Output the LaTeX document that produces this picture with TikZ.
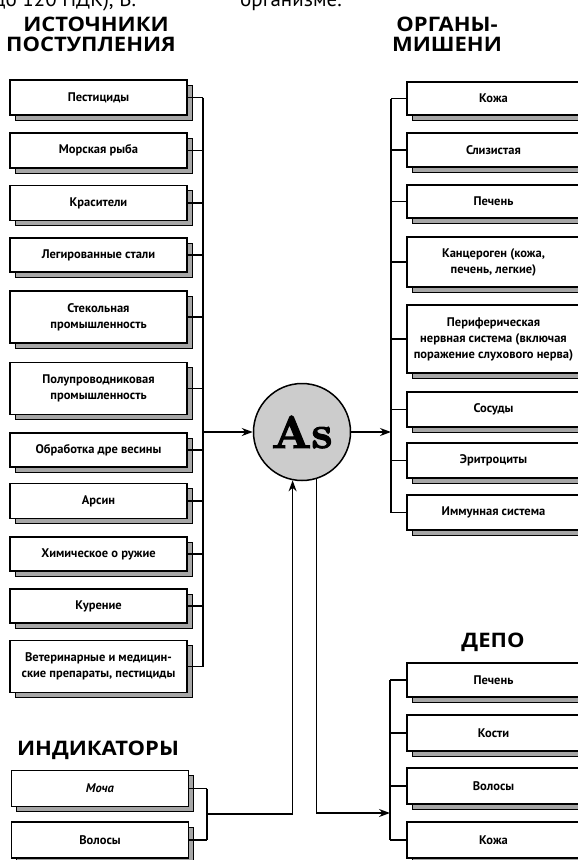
\documentclass[tikz,border=0pt]{standalone}
\usepackage{fontspec}
\newfontfamily\ptsans{PT Sans}
\newfontfamily\opensans[FakeStretch=1.1]{Open Sans}
\newfontface\asfont[FakeBold=2.5]{lmroman10-bold.otf}
\usetikzlibrary{arrows.meta,shadows}
\newcommand{\boxtxt}{\ptsans\bfseries\fontsize{12.5}{16}\selectfont}
\newcommand{\headtxt}{\opensans\bfseries\fontsize{20}{21}\selectfont}
\begin{document}
\begin{tikzpicture}[x=1pt,y=-1pt,
  box/.style={draw=black, line width=1.6pt, fill=white, inner sep=1pt,
    font=\boxtxt, align=center,
    general shadow={shadow xshift=5pt, shadow yshift=-5pt, fill=black!35, draw=black, line width=1pt}},
  lbox/.style={box, minimum width=177pt},
  rbox/.style={box, minimum width=173pt},
  conn/.style={line width=1.4pt},
  arr/.style={line width=1.4pt, -{Stealth[length=11pt,width=8pt]}},
  head/.style={font=\headtxt, anchor=base}]
\useasboundingbox (0,0) rectangle (578,860);
\clip (0,0) rectangle (578,860);

% partial text at top
\node[anchor=base west, font=\ptsans\fontsize{21}{21}\selectfont, inner sep=0] (top1) at (-6,6) {до 120 ПДК), В.};
\node[anchor=base west, font=\ptsans\fontsize{21}{21}\selectfont, inner sep=0] (top2) at (240,6) {организме.};

% headings
\node[head] (h1) at (96,31) {ИСТОЧНИКИ};
\node[head] (h2) at (91,51) {ПОСТУПЛЕНИЯ};
\node[head] (h3) at (447,31) {ОРГАНЫ-};
\node[head] (h4) at (447,51) {МИШЕНИ};
\node[head] (h5) at (493,647) {ДЕПО};
\node[head] (h6) at (98,755) {ИНДИКАТОРЫ};

% left boxes
\node[lbox, minimum height=35pt] (l1) at (98.5,97.5) {Пестициды};
\node[lbox, minimum height=35pt] (l2) at (98.5,150.5) {Морская рыба};
\node[lbox, minimum height=35pt] (l3) at (98.5,203) {Красители};
\node[lbox, minimum height=34pt] (l4) at (98.5,255) {Легированные стали};
\node[lbox, minimum height=52pt] (l5) at (98.5,317) {Стекольная\\промышленность};
\node[lbox, minimum height=52pt] (l6) at (98.5,388.5) {Полупроводниковая\\промышленность};
\node[lbox, minimum height=34pt] (l7) at (98.5,450) {Обработка дре весины};
\node[lbox, minimum height=35pt] (l8) at (98.5,501) {Арсин};
\node[lbox, minimum height=34pt] (l9) at (98.5,554) {Химическое о ружие};
\node[lbox, minimum height=34pt] (l10) at (98.5,606) {Курение};
\node[lbox, minimum height=52pt] (l11) at (98.5,666.5) {Ветеринарные и медицин-\\ские препараты, пестициды};

% indicators
\node[lbox, minimum height=36pt] (i1) at (100,788.5) {\itshape Моча};
\node[lbox, minimum height=36pt] (i2) at (100,840) {Волосы};

% right boxes
\node[rbox, minimum height=33pt] (r1) at (493.5,98.5) {Кожа};
\node[rbox, minimum height=34pt] (r2) at (493.5,150) {Слизистая};
\node[rbox, minimum height=33pt] (r3) at (493.5,201.5) {Печень};
\node[rbox, minimum height=50pt] (r4) at (493.5,262) {Канцероген (кожа,\\печень, легкие)};
\node[rbox, minimum height=68pt] (r5) at (493.5,339) {Периферическая\\нервная система (включая\\поражение слухового нерва)};
\node[rbox, minimum height=35pt] (r6) at (493.5,409.5) {Сосуды};
\node[rbox, minimum height=35pt] (r7) at (493.5,460.5) {Эритроциты};
\node[rbox, minimum height=35pt] (r8) at (493.5,512.5) {Иммунная система};

% depo boxes
\node[rbox, minimum height=34pt] (d1) at (493.5,680) {Печень};
\node[rbox, minimum height=36pt] (d2) at (493.5,733) {Кости};
\node[rbox, minimum height=36pt] (d3) at (493.5,786) {Волосы};
\node[rbox, minimum height=36pt] (d4) at (493.5,840) {Кожа};

% central circle
\node[circle, draw=black, line width=1.5pt, fill=black!20, minimum size=97pt, inner sep=0,
  font=\asfont\fontsize{46}{46}\selectfont] (as) at (302,432) {As};

% bus coordinates
\coordinate (lbus) at (203,432);
\coordinate (rbus) at (391,432);
\coordinate (ibus) at (207,814);
\coordinate (dbus) at (390,813);

% left bus
\foreach \n in {l1,l2,l3,l4,l5,l6,l7,l8,l9,l10,l11}
  \draw[conn] (\n.east) -- (\n.east -| lbus);
\draw[conn] (l1.east -| lbus) -- (l11.east -| lbus);
\draw[arr] (lbus) -- (as);

% right bus
\foreach \n in {r1,r2,r3,r4,r5,r6,r7,r8}
  \draw[conn] (\n.west) -- (\n.west -| rbus);
\draw[conn] (r1.west -| rbus) -- (r8.west -| rbus);
\draw[arr] (as) -- (rbus);

% indicator bus
\foreach \n in {i1,i2}
  \draw[conn] (\n.east) -- (\n.east -| ibus);
\draw[conn] (i1.east -| ibus) -- (i2.east -| ibus);
\draw[arr] (ibus) -- (ibus -| as.259) -- (as.259);

% depo bus
\foreach \n in {d1,d2,d3,d4}
  \draw[conn] (\n.west) -- (\n.west -| dbus);
\draw[conn] (d1.west -| dbus) -- (d4.west -| dbus);
\draw[arr] (as.287) -- (as.287 |- dbus) -- (dbus);
\end{tikzpicture}
\end{document}
